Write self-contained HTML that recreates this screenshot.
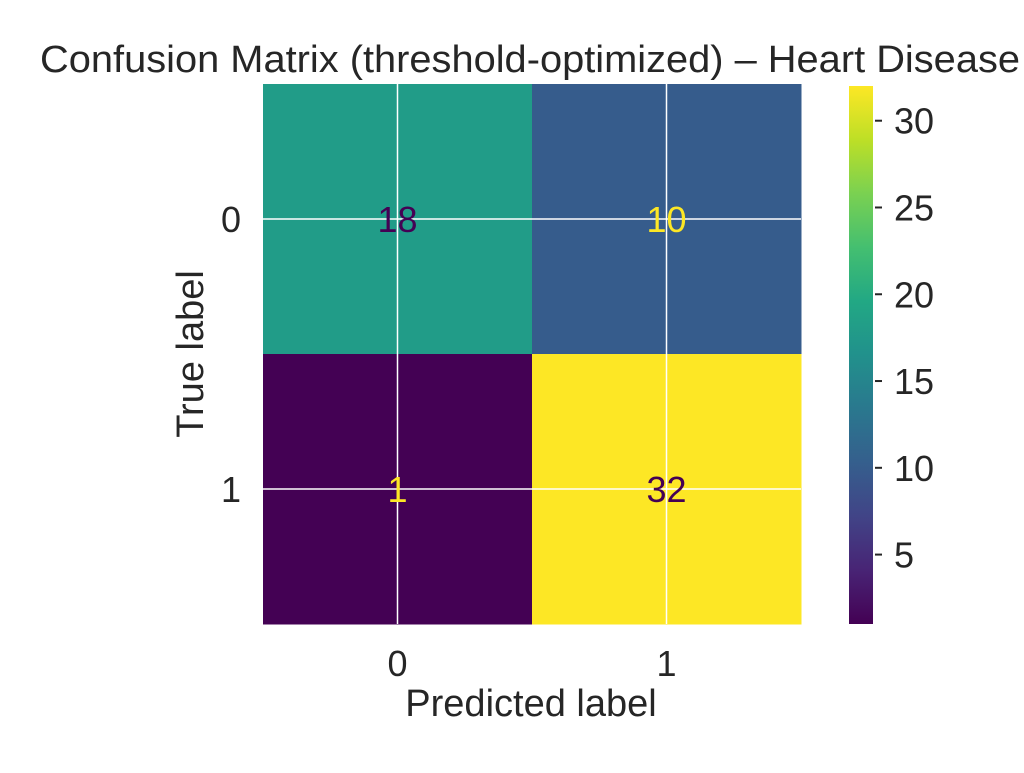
<!DOCTYPE html>
<html><head><meta charset="utf-8"><style>
body{margin:0;background:#fff;width:1024px;height:768px;overflow:hidden}
text{font-family:"Liberation Sans",Arial,sans-serif;fill:#262626}
</style></head><body>
<svg id="chart" width="1024" height="768">
<defs><linearGradient id="vir" x1="0" y1="1" x2="0" y2="0">
<stop offset="0" stop-color="#440154"/><stop offset="0.1" stop-color="#482475"/><stop offset="0.2" stop-color="#414487"/><stop offset="0.3" stop-color="#355f8d"/><stop offset="0.4" stop-color="#2a788e"/><stop offset="0.5" stop-color="#21918c"/><stop offset="0.6" stop-color="#22a884"/><stop offset="0.7" stop-color="#44bf70"/><stop offset="0.8" stop-color="#7ad151"/><stop offset="0.9" stop-color="#bddf26"/><stop offset="1" stop-color="#fde725"/>
</linearGradient></defs>
<text x="530" y="72" font-size="38" text-anchor="middle" textLength="980" lengthAdjust="spacingAndGlyphs">Confusion Matrix (threshold-optimized) – Heart Disease</text>
<g id="cells"></g>
<g id="cbar"></g>
<text x="531" y="716" font-size="38" text-anchor="middle">Predicted label</text>
<text transform="translate(203,354) rotate(-90)" font-size="38" text-anchor="middle">True label</text>
</svg>
<script>
const classes=["0","1"];
const matrix=[[18,10],[1,32]];
const cbarTicks=[5,10,15,20,25,30];
const NS="http://www.w3.org/2000/svg";
const X0=263,X1=801,Y0=84,Y1=624,vmin=1,vmax=32;
const stops=["#440154","#482475","#414487","#355f8d","#2a788e","#21918c","#22a884","#44bf70","#7ad151","#bddf26","#fde725"];
function hex(h){return [1,3,5].map(i=>parseInt(h.substr(i,2),16));}
function viridis(t){t=Math.max(0,Math.min(1,t));const p=t*10,i=Math.min(9,Math.floor(p)),f=p-i;const a=hex(stops[i]),b=hex(stops[i+1]);return "rgb("+a.map((v,k)=>Math.round(v+(b[k]-v)*f)).join(",")+")";}
function mk(tag,attrs,parent){const e=document.createElementNS(NS,tag);for(const k in attrs)e.setAttribute(k,attrs[k]);parent.appendChild(e);return e;}
const n=classes.length,cw=(X1-X0)/n,ch=(Y1-Y0)/n;
const xc=j=>X0+cw*(j+0.5),yc=i=>Y0+ch*(i+0.5);
const g=document.getElementById("cells");
const mid=(vmin+vmax)/2;
matrix.forEach((row,i)=>row.forEach((v,j)=>{
 const r=mk("rect",{x:X0+cw*j,y:Y0+ch*i,width:cw+0.5,height:ch+0.5,fill:viridis((v-vmin)/(vmax-vmin))},g);
 
 
}));
classes.forEach((c,k)=>{
 const lv=mk("line",{x1:xc(k),x2:xc(k),y1:Y0,y2:Y1,stroke:"#fff","stroke-width":1.5},g);
 
 
 const lh=mk("line",{x1:X0,x2:X1,y1:yc(k),y2:yc(k),stroke:"#fff","stroke-width":1.5},g);
 
 
 const tx=mk("text",{x:xc(k),y:Y1+52,"font-size":36,"text-anchor":"middle"},g);tx.textContent=c;
 
 
 const ty=mk("text",{x:241,y:yc(k)+13,"font-size":36,"text-anchor":"end"},g);ty.textContent=c;
 
 
});
matrix.forEach((row,i)=>row.forEach((v,j)=>{
 const t=mk("text",{x:xc(j),y:yc(i)+13,"font-size":36,"text-anchor":"middle"},g);
 t.style.fill=v<mid?"#fde725":"#440154";
 t.textContent=v;
 
 
}));
const cb=document.getElementById("cbar");
const CX=849,CW=24,CY0=86,CY1=624;
const cy=v=>CY1-(v-vmin)/(vmax-vmin)*(CY1-CY0);
const bar=mk("rect",{x:CX,y:CY0,width:CW,height:CY1-CY0,fill:"url(#vir)"},cb);


cbarTicks.forEach(v=>{
 const l=mk("line",{x1:CX+CW+2,x2:CX+CW+9,y1:cy(v),y2:cy(v),stroke:"#262626","stroke-width":2},cb);
 
 
 const t=mk("text",{x:894,y:cy(v)+13,"font-size":36},cb);t.textContent=v;
 
 
});
</script>
</body></html>
